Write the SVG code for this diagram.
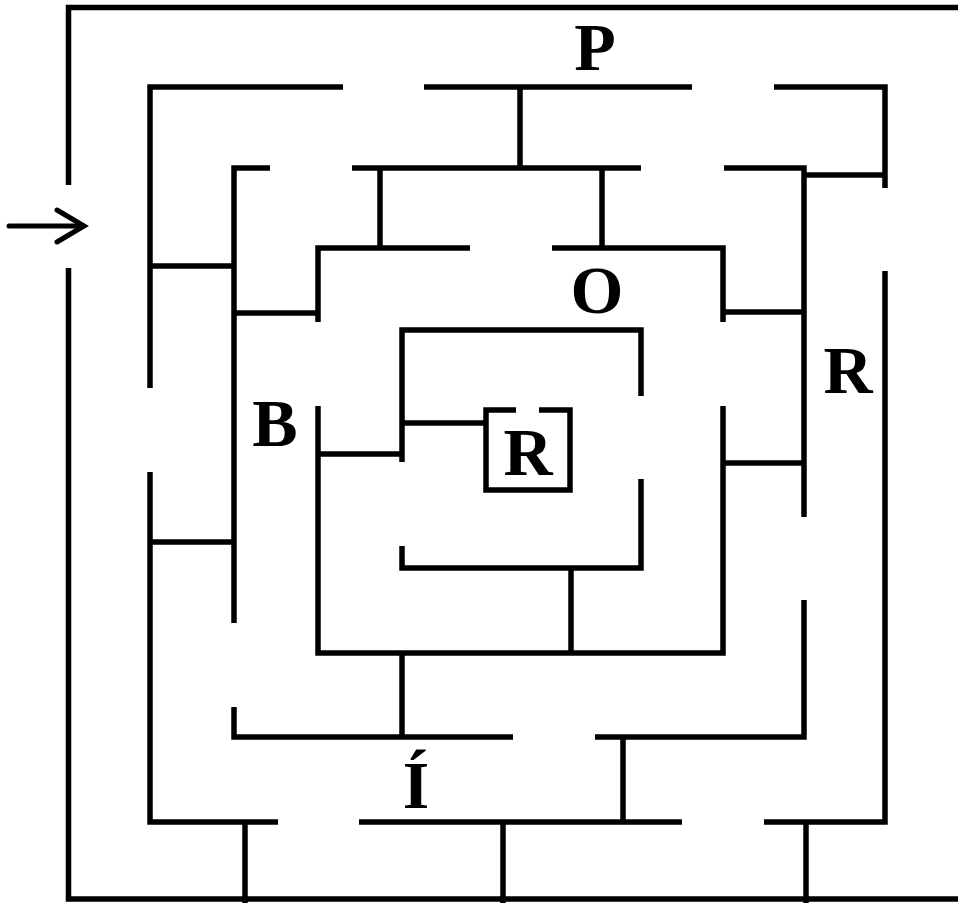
<svg xmlns="http://www.w3.org/2000/svg" width="958" height="903" viewBox="0 0 958 903">
<style>
.w{fill:none;stroke:#000;stroke-width:5.5;stroke-linecap:butt;stroke-linejoin:miter}
.a{fill:none;stroke:#000;stroke-width:5;stroke-linecap:round;stroke-linejoin:miter}
.t{font-family:"Liberation Serif","Times New Roman",serif;font-weight:bold;font-size:68px;text-anchor:middle;fill:#000}
</style>
<rect width="958" height="903" fill="#fff"/>
<g id="walls">
<polyline class="w" points="68.5,185 68.5,7.5 958,7.5"/>
<polyline class="w" points="68.5,268 68.5,899 958,899"/>
<polyline class="w" points="343,87 150,87 150,388"/>
<line class="w" x1="424" y1="87" x2="692" y2="87"/>
<polyline class="w" points="774,87 885,87 885,188"/>
<line class="w" x1="804" y1="175" x2="885" y2="175"/>
<line class="w" x1="150" y1="266" x2="234" y2="266"/>
<polyline class="w" points="150,472 150,822 278,822"/>
<line class="w" x1="359" y1="822" x2="682" y2="822"/>
<polyline class="w" points="764,822 885,822 885,271"/>
<line class="w" x1="150" y1="542" x2="234" y2="542"/>
<line class="w" x1="245" y1="822" x2="245" y2="903"/>
<line class="w" x1="503" y1="822" x2="503" y2="903"/>
<line class="w" x1="806" y1="822" x2="806" y2="903"/>
<line class="w" x1="520" y1="87" x2="520" y2="168"/>
<polyline class="w" points="270,168 234,168 234,623"/>
<line class="w" x1="352" y1="168" x2="641" y2="168"/>
<polyline class="w" points="724,168 804,168 804,517"/>
<polyline class="w" points="804,600 804,737 595,737"/>
<polyline class="w" points="513,737 234,737 234,707"/>
<line class="w" x1="380" y1="168" x2="380" y2="248"/>
<line class="w" x1="602" y1="168" x2="602" y2="248"/>
<line class="w" x1="623" y1="737" x2="623" y2="822"/>
<line class="w" x1="234" y1="313" x2="318" y2="313"/>
<polyline class="w" points="470,248 318,248 318,322"/>
<polyline class="w" points="552,248 723,248 723,322"/>
<line class="w" x1="723" y1="312" x2="804" y2="312"/>
<polyline class="w" points="318,406 318,653 723,653 723,406"/>
<line class="w" x1="723" y1="463" x2="804" y2="463"/>
<line class="w" x1="402" y1="653" x2="402" y2="737"/>
<line class="w" x1="571" y1="568" x2="571" y2="653"/>
<line class="w" x1="318" y1="454" x2="402" y2="454"/>
<polyline class="w" points="402,462 402,330 641,330 641,396"/>
<polyline class="w" points="641,479 641,568 402,568 402,546"/>
<line class="w" x1="402" y1="423" x2="486" y2="423"/>
<polyline class="w" points="516,410 486,410 486,490 570,490 570,410 539,410"/>
</g>
<g id="arrow">
<line class="a" x1="9" y1="226" x2="83" y2="226"/>
<polyline class="a" points="57,210 84,226 57,242"/>
</g>
<g id="labels">
<text class="t" x="595" y="70">P</text>
<text class="t" x="597" y="313">O</text>
<text class="t" x="848" y="393">R</text>
<text class="t" x="275" y="446">B</text>
<text class="t" x="528" y="475">R</text>
<text class="t" x="416" y="808">Í</text>
</g>
</svg>
